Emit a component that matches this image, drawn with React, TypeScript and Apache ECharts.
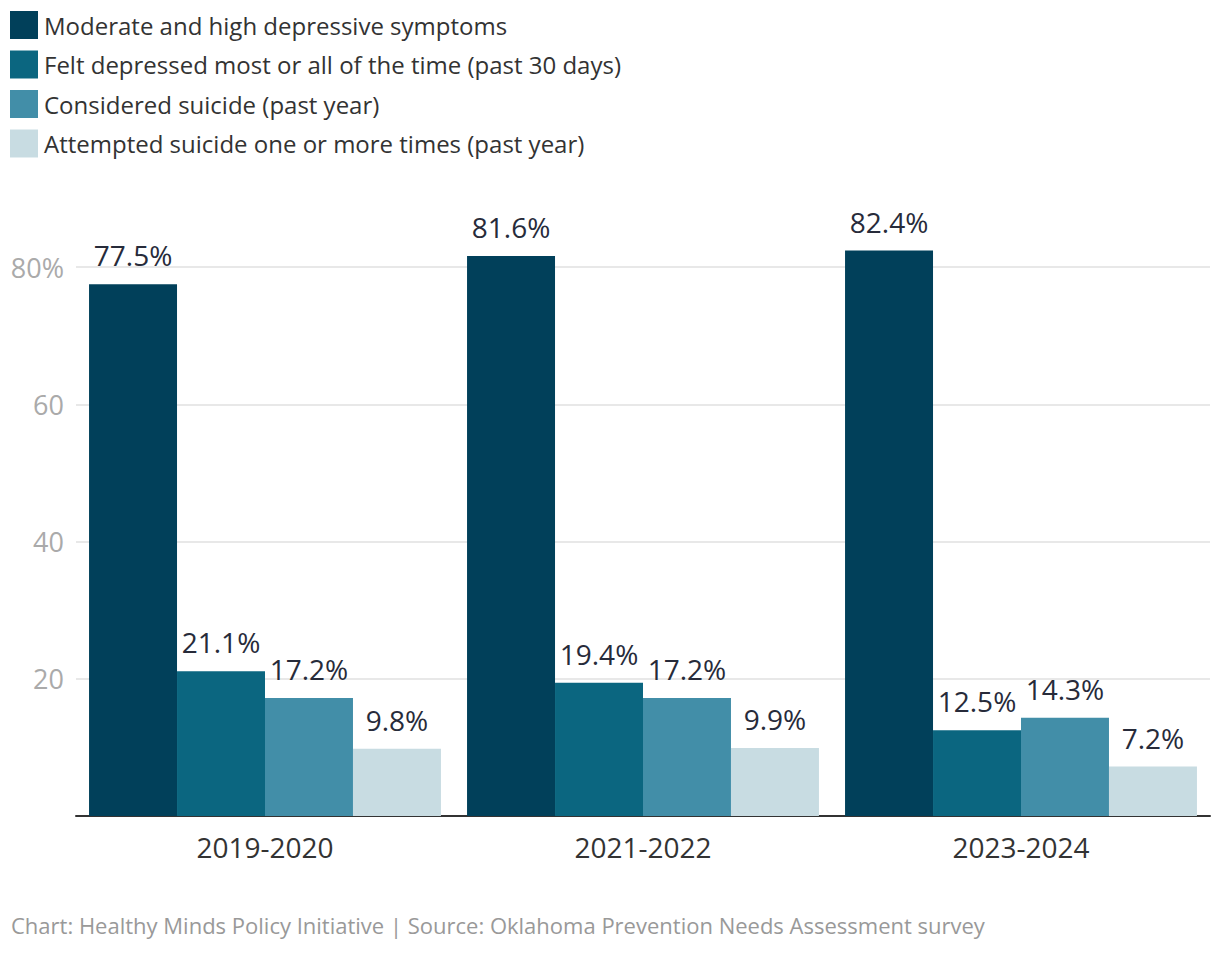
import React, { useEffect, useRef } from "react";
import * as echarts from "echarts";

const categories = ["2019-2020", "2021-2022", "2023-2024"];
const seriesNames = [
  "Moderate and high depressive symptoms",
  "Felt depressed most or all of the time (past 30 days)",
  "Considered suicide (past year)",
  "Attempted suicide one or more times (past year)",
];
const moderateHigh = [77.5, 81.6, 82.4];
const feltDepressed = [21.1, 19.4, 12.5];
const consideredSuicide = [17.2, 17.2, 14.3];
const attemptedSuicide = [9.8, 9.9, 7.2];
const colors = ["#01405a", "#0b6680", "#428ea8", "#c8dce2"];
const footer =
  "Chart: Healthy Minds Policy Initiative | Source: Oklahoma Prevention Needs Assessment survey";

export default function App() {
  const ref = useRef<HTMLDivElement>(null);
  useEffect(() => {
    if (!ref.current) return;
    const chart = echarts.init(ref.current, undefined, { renderer: "svg" });
    const values = [moderateHigh, feltDepressed, consideredSuicide, attemptedSuicide];
    chart.setOption({
      animation: false,
      textStyle: { fontFamily: "Open Sans" },
      color: colors,
      legend: {
        orient: "vertical",
        left: 10,
        top: 11,
        itemWidth: 28,
        itemHeight: 28,
        itemGap: 11.5,
        icon: "rect",
        padding: 0,
        textStyle: { fontSize: 24, color: "#333", fontFamily: "Open Sans", padding: [0, 0, 0, 1] },
        data: seriesNames,
      },
      title: {
        text: footer,
        left: 11,
        top: 914,
        padding: 0,
        textStyle: { fontSize: 22, fontWeight: "normal", color: "#999", fontFamily: "Open Sans" },
      },
      grid: { left: 76, right: 10, top: 267, bottom: 138, containLabel: false },
      xAxis: {
        type: "category",
        data: categories,
        axisLine: { lineStyle: { color: "#333", width: 2 } },
        axisTick: { show: false },
        axisLabel: { fontSize: 28, color: "#333", margin: 17, fontFamily: "Open Sans" },
      },
      yAxis: {
        type: "value",
        min: 0,
        max: 80,
        interval: 20,
        axisLine: { show: false },
        axisTick: { show: false },
        splitLine: { lineStyle: { color: "#e0e0e0", width: 1.5 } },
        axisLabel: {
          fontSize: 27,
          color: "#aaa",
          margin: 12,
          fontFamily: "Open Sans",
          formatter: (v: number) => (v === 0 ? "" : v === 80 ? "80%" : String(v)),
        },
      },
      series: seriesNames.map((name, i) => ({
        name,
        type: "bar",
        data: values[i],
        barGap: "0%",
        barCategoryGap: "6.9%",
        clip: false,
        itemStyle: { color: colors[i] },
        label: {
          show: true,
          position: "top",
          distance: 15,
          fontSize: 28,
          color: "#272b3a",
          fontFamily: "Open Sans",
          formatter: (p: any) => `${p.value}%`,
        },
      })),
    });
    return () => chart.dispose();
  }, []);
  return (
    <div
      ref={ref}
      style={{ position: "absolute", left: 0, top: 0, width: 1220, height: 954 }}
    />
  );
}
